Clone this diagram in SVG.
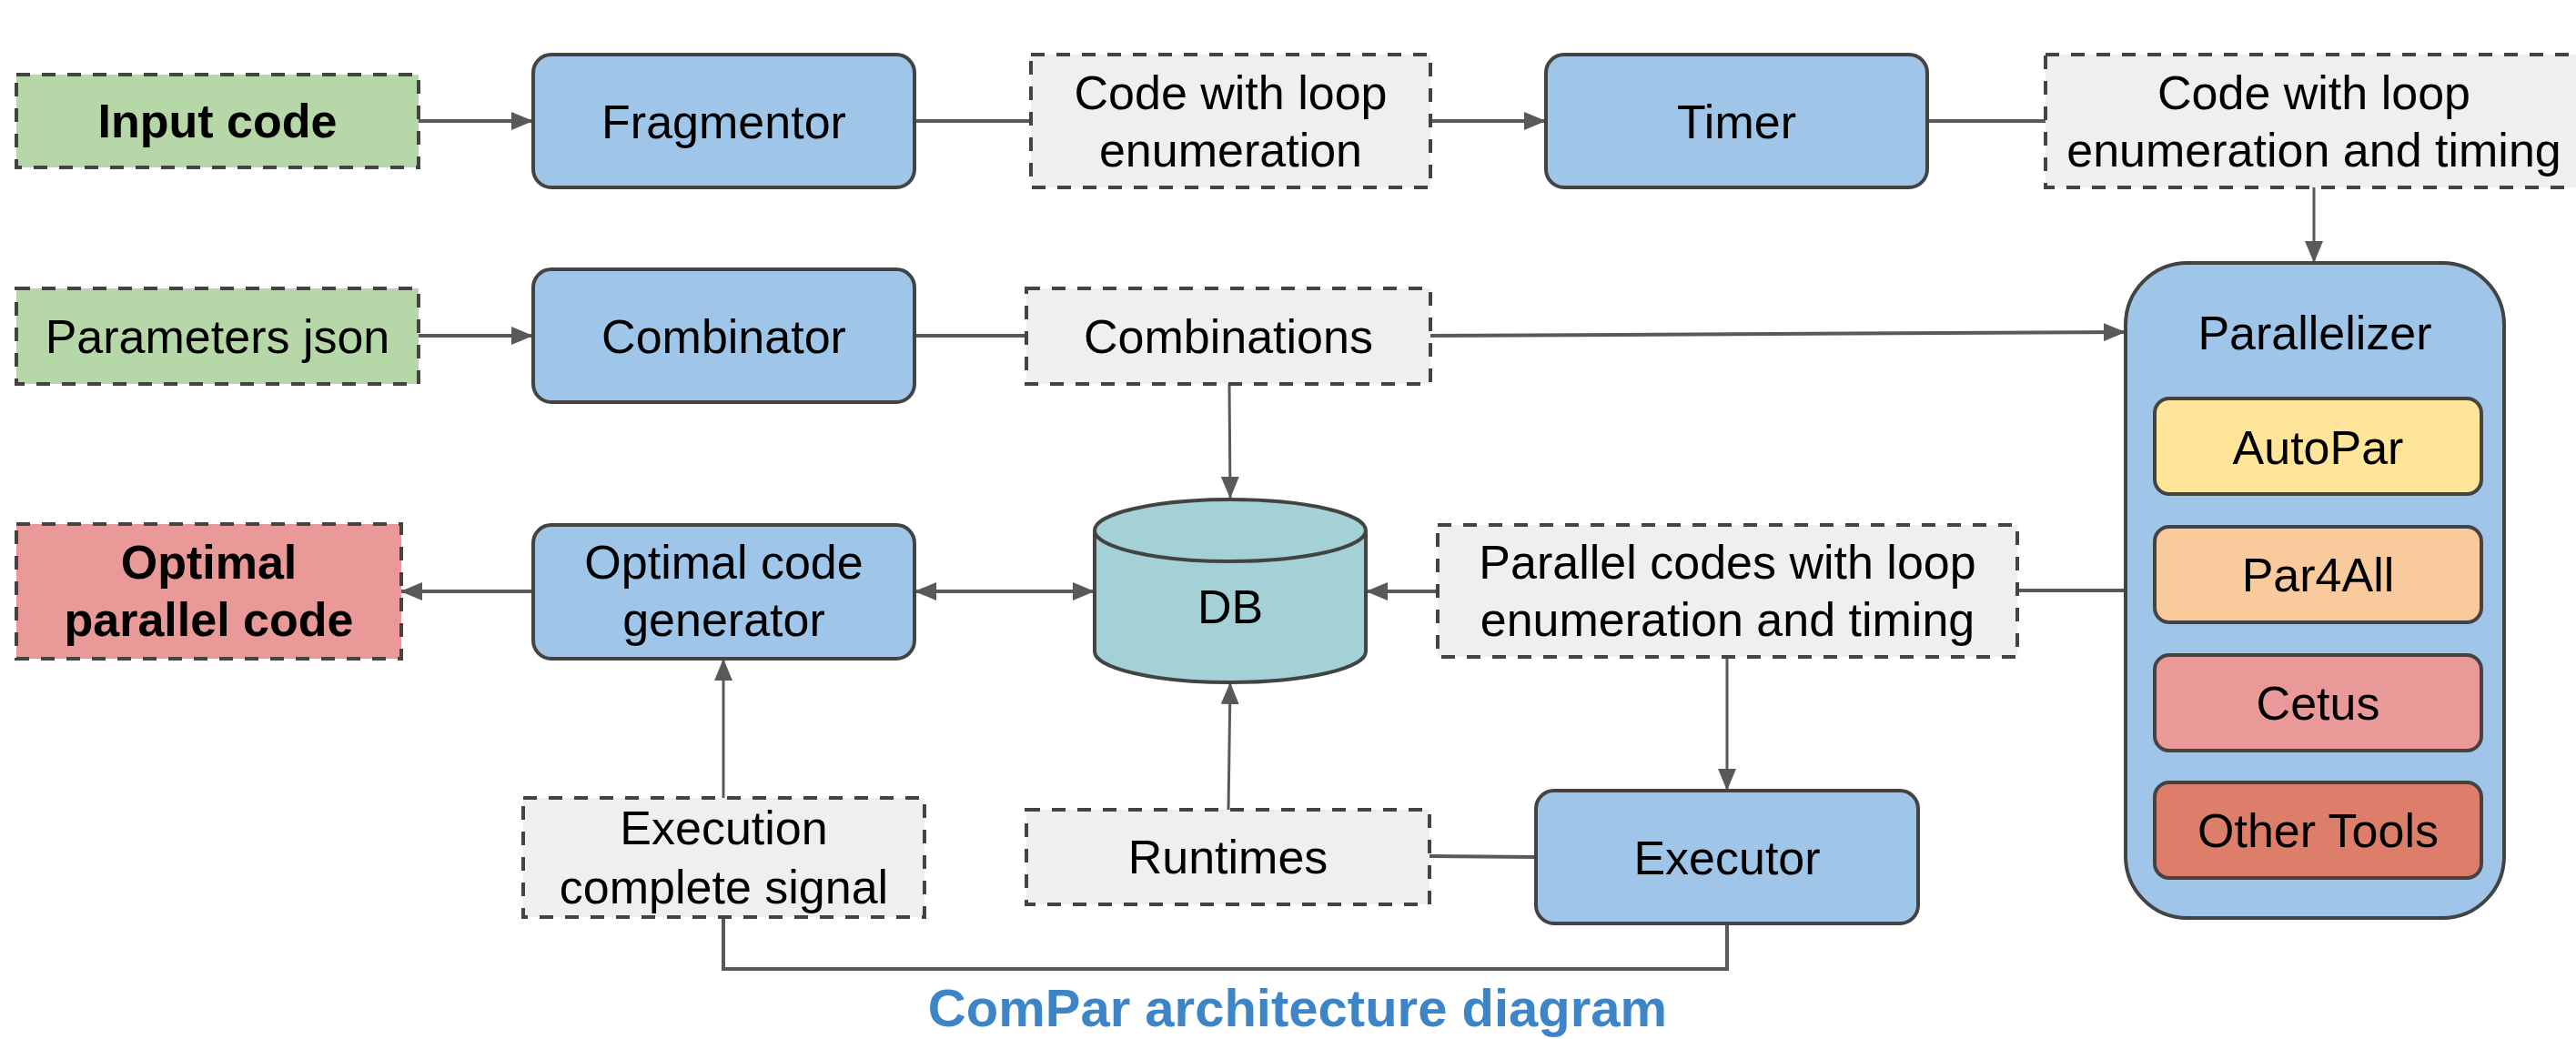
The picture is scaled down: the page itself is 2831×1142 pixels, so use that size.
<svg xmlns="http://www.w3.org/2000/svg" width="2831" height="1142" viewBox="0 0 2831 1142">
<style>
text{font-family:"Liberation Sans",Arial,sans-serif;font-size:52px;fill:#000;text-anchor:middle}
.b{font-weight:bold}
.dash{stroke:#434343;stroke-width:4;stroke-dasharray:15 13}
.solid{stroke:#434343;stroke-width:4}
.green{fill:#b6d7a8}.gray{fill:#efefef}.blue{fill:#9fc5e8}.red{fill:#ea9999}
.con{fill:none;stroke:#595959;stroke-width:4}
.thin{stroke-width:3}
.title{font-weight:bold;font-size:58px;fill:#3d85c6}
</style>
<defs>
<marker id="ah" markerUnits="userSpaceOnUse" markerWidth="24" markerHeight="20" refX="24" refY="10" orient="auto-start-reverse" viewBox="0 0 24 20">
<path d="M0,0 L24,10 L0,20 z" fill="#595959"/>
</marker>
</defs>
<g id="connectors">
<line class="con" x1="460" y1="133" x2="586" y2="133" marker-end="url(#ah)"/>
<line class="con" x1="1005" y1="133" x2="1133" y2="133"/>
<line class="con" x1="1572" y1="133" x2="1699" y2="133" marker-end="url(#ah)"/>
<line class="con" x1="2118" y1="133" x2="2248" y2="133"/>
<line class="con thin" x1="2543" y1="206" x2="2543" y2="289" marker-end="url(#ah)"/>
<line class="con" x1="460" y1="369" x2="586" y2="369" marker-end="url(#ah)"/>
<line class="con" x1="1005" y1="369" x2="1128" y2="369"/>
<line class="con" x1="1572" y1="369" x2="2336" y2="365" marker-end="url(#ah)"/>
<line class="con thin" x1="1351" y1="422" x2="1352" y2="548" marker-end="url(#ah)"/>
<line class="con" x1="586" y1="650" x2="440" y2="650" marker-end="url(#ah)"/>
<line class="con" x1="1005" y1="650" x2="1203" y2="650" marker-start="url(#ah)" marker-end="url(#ah)"/>
<line class="con" x1="1580" y1="650" x2="1501" y2="650" marker-end="url(#ah)"/>
<line class="con" x1="2336" y1="649" x2="2217" y2="649"/>
<line class="con thin" x1="1898" y1="722" x2="1898" y2="869" marker-end="url(#ah)"/>
<line class="con thin" x1="1350" y1="890" x2="1352" y2="750" marker-end="url(#ah)"/>
<line class="con" x1="1571" y1="941" x2="1688" y2="942"/>
<line class="con thin" x1="795" y1="877" x2="795" y2="724" marker-end="url(#ah)"/>
<polyline class="con" points="795,1008 795,1065 1898,1065 1898,1015"/>
</g>
<g id="input-code">
<rect class="green dash" x="18" y="82" width="442" height="102"/>
<text class="b" x="239" y="151">Input code</text>
</g>
<g id="parameters-json">
<rect class="green dash" x="18" y="317" width="442" height="105"/>
<text x="239" y="388">Parameters json</text>
</g>
<g id="fragmentor">
<rect class="blue solid" x="586" y="60" width="419" height="146" rx="20"/>
<text x="795.5" y="151.5">Fragmentor</text>
</g>
<g id="combinator">
<rect class="blue solid" x="586" y="296" width="419" height="146" rx="20"/>
<text x="795.5" y="387.5">Combinator</text>
</g>
<g id="code-loop-enum">
<rect class="gray dash" x="1133" y="60" width="439" height="146"/>
<text x="1352.5" y="120">Code with loop</text>
<text x="1352.5" y="183">enumeration</text>
</g>
<g id="timer">
<rect class="blue solid" x="1699" y="60" width="419" height="146" rx="20"/>
<text x="1908.5" y="151.5">Timer</text>
</g>
<g id="code-loop-enum-timing">
<rect class="gray dash" x="2248" y="60" width="590" height="146"/>
<text x="2543" y="120">Code with loop</text>
<text x="2543" y="183">enumeration and timing</text>
</g>
<g id="combinations">
<rect class="gray dash" x="1128" y="317" width="444" height="105"/>
<text x="1350" y="388">Combinations</text>
</g>
<g id="parallelizer">
<rect class="blue solid" x="2336" y="289" width="416" height="720" rx="68"/>
<text x="2544" y="384">Parallelizer</text>
<g id="autopar">
<rect class="solid" fill="#ffe599" x="2368" y="438" width="359" height="105" rx="16"/>
<text x="2547.5" y="509.5">AutoPar</text>
</g>
<g id="par4all">
<rect class="solid" fill="#f9cb9c" x="2368" y="579" width="359" height="105" rx="16"/>
<text x="2547.5" y="650">Par4All</text>
</g>
<g id="cetus">
<rect class="solid" fill="#ea9999" x="2368" y="720" width="359" height="105" rx="16"/>
<text x="2547.5" y="791">Cetus</text>
</g>
<g id="other-tools">
<rect class="solid" fill="#dd7e6b" x="2368" y="860" width="359" height="105" rx="16"/>
<text x="2547.5" y="931">Other Tools</text>
</g>
</g>
<g id="optimal-parallel-code">
<rect class="red dash" x="18" y="576" width="423" height="148"/>
<text class="b" x="229.5" y="636">Optimal</text>
<text class="b" x="229.5" y="699">parallel code</text>
</g>
<g id="optimal-code-generator">
<rect class="blue solid" x="586" y="577" width="419" height="147" rx="20"/>
<text x="795.5" y="636">Optimal code</text>
<text x="795.5" y="699">generator</text>
</g>
<g id="db">
<path d="M1203,583 L1203,716 A149,34 0 0 0 1501,716 L1501,583" fill="#a4d1d6" stroke="#434343" stroke-width="4"/>
<ellipse cx="1352" cy="583" rx="149" ry="34" fill="#a4d1d6" stroke="#434343" stroke-width="4"/>
<text x="1352" y="685">DB</text>
</g>
<g id="parallel-codes">
<rect class="gray dash" x="1580" y="577" width="637" height="145"/>
<text x="1898.5" y="636">Parallel codes with loop</text>
<text x="1898.5" y="699">enumeration and timing</text>
</g>
<g id="execution-complete-signal">
<rect class="gray dash" x="575" y="877" width="441" height="131"/>
<text x="795.5" y="928">Execution</text>
<text x="795.5" y="993">complete signal</text>
</g>
<g id="runtimes">
<rect class="gray dash" x="1128" y="890" width="443" height="104"/>
<text x="1349.5" y="960">Runtimes</text>
</g>
<g id="executor">
<rect class="blue solid" x="1688" y="869" width="420" height="146" rx="20"/>
<text x="1898" y="960.5">Executor</text>
</g>
<text class="title" x="1426" y="1128">ComPar architecture diagram</text>
</svg>
